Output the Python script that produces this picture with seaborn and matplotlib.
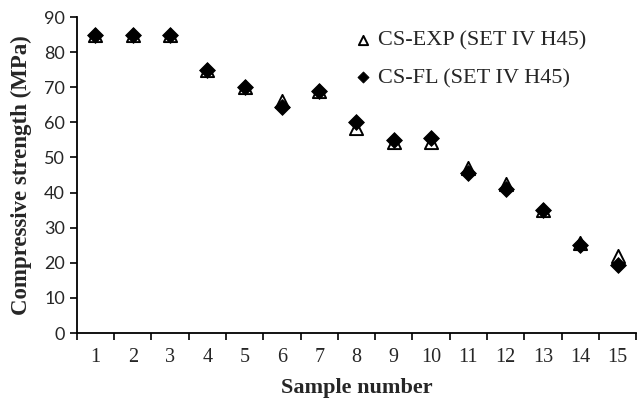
import numpy as np
import pandas as pd
import matplotlib
matplotlib.use("Agg")
import matplotlib.pyplot as plt
import seaborn as sns

# values
samples = list(range(1, 16))
cs_exp = [85, 85, 85, 75, 70, 66, 69, 58.5, 54.5, 54.5, 47, 42.5, 35, 25.5, 22]
cs_fl = [85, 85, 85, 75, 70, 64.5, 69, 60, 55, 55.5, 45.5, 41, 35, 25, 19.5]

exp_label = "CS-EXP (SET IV H45)"
fl_label = "CS-FL (SET IV H45)"

df = pd.DataFrame({"sample": samples, "exp": cs_exp, "fl": cs_fl})

sns.set_style("ticks")
serif = ["Liberation Serif", "DejaVu Serif"]

fig, ax = plt.subplots(figsize=(6.4, 4.0), dpi=100)
fig.subplots_adjust(left=0.120, right=0.994, bottom=0.1675, top=0.9575)

# open triangles first, filled diamonds on top
sns.scatterplot(data=df, x="sample", y="exp", marker="^", s=90,
                facecolor="white", edgecolor="black", linewidth=1.4,
                label=exp_label, ax=ax, zorder=3)
sns.scatterplot(data=df, x="sample", y="fl", marker="D", s=65,
                color="black", edgecolor="black", linewidth=0.6,
                label=fl_label, ax=ax, zorder=4)

ax.set_xlim(0.5, 15.5)
ax.set_ylim(0, 90)
ax.set_yticks(np.arange(0, 91, 10))
ax.set_xticks(samples)
ax.set_xticks(np.arange(0.5, 15.6, 1), minor=True)
ax.tick_params(axis="x", which="major", length=0, pad=11)
ax.tick_params(axis="x", which="minor", length=5, width=1.2, color="black")
ax.tick_params(axis="y", length=5, width=1.2, color="black")

for lbl in ax.get_xticklabels():
    lbl.set_fontfamily(serif)
    lbl.set_fontsize(14.5)
for lbl in ax.get_yticklabels():
    lbl.set_fontfamily(["Lato", "DejaVu Sans"])
    lbl.set_fontsize(13)

ax.set_xlabel("Sample number", fontfamily=serif, fontsize=16,
              fontweight="bold", labelpad=7.5)
ax.set_ylabel("Compressive strength (MPa)", fontfamily=serif, fontsize=16.5,
              fontweight="bold", labelpad=9)

sns.despine(ax=ax)
for side in ["left", "bottom"]:
    ax.spines[side].set_linewidth(1.3)
    ax.spines[side].set_color("black")

ax.legend(loc="upper right", bbox_to_anchor=(0.935, 1.0), frameon=False,
          prop={"family": serif, "size": 16}, handletextpad=-0.3,
          labelspacing=0.75, markerscale=0.7, borderaxespad=0.2)

fig.savefig("out.png", dpi=100)
